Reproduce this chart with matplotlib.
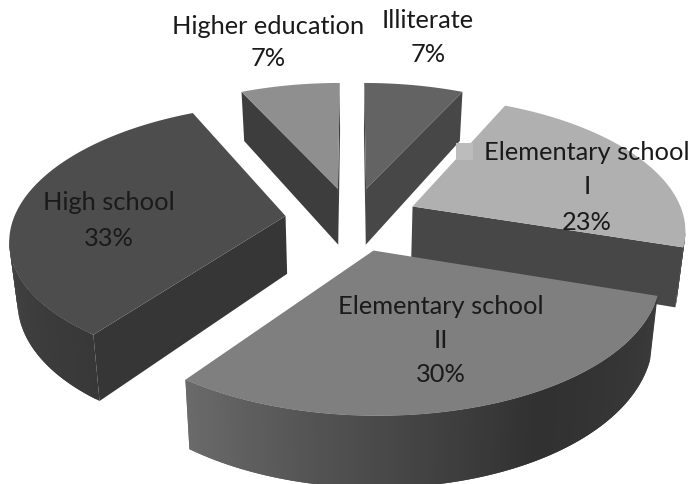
import numpy as np
import matplotlib
matplotlib.use('Agg')
import matplotlib.pyplot as plt
from matplotlib.patches import Rectangle

plt.rcParams['font.family'] = ['Lato', 'DejaVu Sans']

# Data, clockwise from the top
categories = [['Illiterate'], ['Elementary school', 'I'], ['Elementary school', 'II'], ['High school'], ['Higher education']]
shares = [7, 23, 30, 33, 7]

# Styles, same order as the data
top_colors = ['#636363', '#b0b0b0', '#7f7f7f', '#4d4d4d', '#8f8f8f']
cut_colors = ['#474747', '#474747', '#3a3a3a', '#363636', '#3d3d3d']
arc_angles = [[0, 30], [25, 110], [108, 150, 180, 216], [216, 270], [330, 360]]
arc_grays = [[.27, .27], [.25, .25], [.23, .19, .29, .42], [.22, .27], [.25, .25]]
label_x = [428, 587, 441, 109, 268]
label_y = [[20, 54], [152, 187, 222], [306, 340, 375], [203, 238], [27, 59]]
draw_order = [4, 0, 3, 1, 2]

# Fake 3D projection, in pixels
cx, cy = 352, 219
R = 272
explode = 67
squash = 0.478
kx, ky = 0.00058, 0.00055
depth = 58
shrink = 0.976


def project(X, Y):
    fx = 1 / (1 + kx * Y)
    fy = 1 / (1 + ky * Y)
    return cx + X * fx, cy - squash * Y * fy, depth * fx


fig = plt.figure(figsize=(6.91, 4.84), dpi=100)
ax = fig.add_axes([0, 0, 1, 1])
ax.set_xlim(0, 691)
ax.set_ylim(484, 0)
ax.axis('off')

edges = np.cumsum([0] + shares) / sum(shares) * 360

for i in draw_order:
    a0, a1 = edges[i], edges[i + 1]
    mid = np.radians((a0 + a1) / 2)
    ox, oy = explode * np.sin(mid), explode * np.cos(mid)

    ang = np.linspace(a0, a1, int(a1 - a0) + 2)
    t = np.radians(ang)
    X = np.r_[ox, ox + R * np.sin(t)]
    Y = np.r_[oy, oy + R * np.cos(t)]
    sx, sy, h = project(X, Y)
    bx = cx + (sx - cx) * shrink  # sides lean in towards the bottom

    # straight cuts, only the ones that face the viewer
    for p, q in [(0, 1), (len(sx) - 1, 0)]:
        if sx[q] < sx[p] - 1:
            ax.fill([sx[p], sx[q], bx[q], bx[p]],
                    [sy[p], sy[q], sy[q] + h[q], sy[p] + h[p]],
                    color=cut_colors[i], lw=0, zorder=1)

    # outer rim as overlapping strips so it can carry the gradient
    for j in range(1, len(sx) - 1):
        if sx[j + 1] < sx[j]:
            g = np.interp(ang[j - 1], arc_angles[i], arc_grays[i])
            k = min(j + 2, len(sx) - 1)
            ax.fill([sx[j], sx[k], bx[k], bx[j]],
                    [sy[j], sy[k], sy[k] + h[k], sy[j] + h[j]],
                    color=str(g), lw=0, zorder=1)

    ax.fill(sx, sy, color=top_colors[i], lw=0, zorder=1)

# leftover legend key next to the label
ax.add_patch(Rectangle((456, 143), 17, 17, color='#bcbcbc', lw=0, zorder=2))

for i, share in enumerate(shares):
    lines = categories[i] + [f'{share}%']
    for line, y in zip(lines, label_y[i]):
        ax.text(label_x[i], y, line, ha='center', va='center', fontsize=18.3,
                color='#1a1a1a', zorder=3)

fig.savefig('out.png', dpi=100)
